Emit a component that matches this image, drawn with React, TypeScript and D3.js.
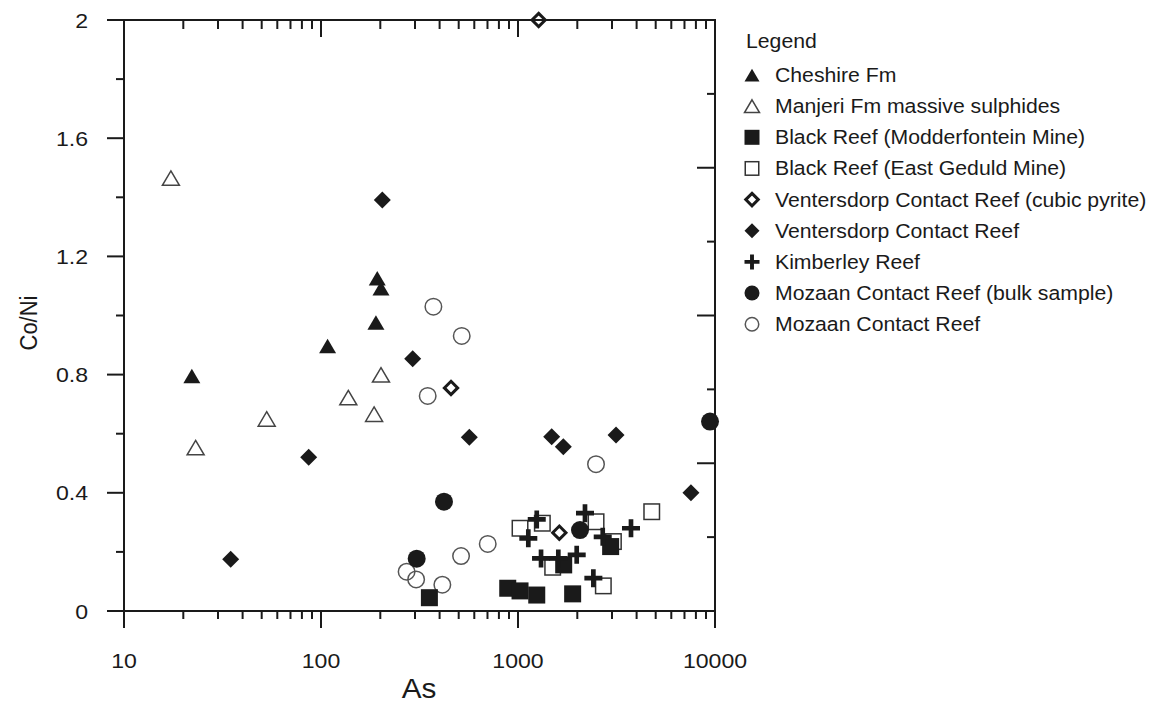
import React from "react";
import * as d3 from "d3";

// values (As ppm, Co/Ni)
const cheshire: [number, number][] = [[22.1, 0.795], [108, 0.897], [190, 0.976], [193, 1.126], [201.6, 1.092]];
const manjeri: [number, number][] = [[17.3, 1.465], [23.1, 0.553], [53, 0.65], [137.6, 0.722], [186, 0.666], [201.6, 0.799]];
const modderfontein: [number, number][] = [[355, 0.045], [887, 0.077], [1024, 0.068], [1245, 0.054], [1894, 0.058], [1706, 0.156], [2953, 0.218]];
const eastGeduld: [number, number][] = [[1024, 0.28], [1329, 0.297], [2490, 0.302], [3050, 0.235], [4774, 0.336], [1500, 0.148], [2711, 0.085]];
const vcrCubic: [number, number][] = [[1273, 2.0], [457, 0.755], [1621, 0.265]];
const vcr: [number, number][] = [[34.8, 0.175], [86.6, 0.52], [204.8, 1.391], [292, 0.854], [566, 0.588], [1483, 0.59], [1698, 0.556], [3145, 0.596], [7551, 0.4]];
const kimberley: [number, number][] = [[1128, 0.246], [1245, 0.31], [1309, 0.178], [1602, 0.178], [1986, 0.19], [2188, 0.331], [2413, 0.111], [2692, 0.251], [3746, 0.28]];
const mozaanBulk: [number, number][] = [[306, 0.177], [421, 0.37], [2064, 0.274], [9433, 0.641]];
const mozaan: [number, number][] = [[272, 0.133], [304, 0.107], [348, 0.728], [372, 1.03], [413, 0.089], [514, 0.186], [518, 0.931], [702, 0.227], [2489, 0.497]];

const legendLabels = [
  "Cheshire Fm",
  "Manjeri Fm massive sulphides",
  "Black Reef (Modderfontein Mine)",
  "Black Reef (East Geduld Mine)",
  "Ventersdorp Contact Reef (cubic pyrite)",
  "Ventersdorp Contact Reef",
  "Kimberley Reef",
  "Mozaan Contact Reef (bulk sample)",
  "Mozaan Contact Reef",
];

const xMajor = [10, 100, 1000, 10000];
const yMajor = [0, 0.4, 0.8, 1.2, 1.6, 2];
const yMinor = [0.2, 0.6, 1.0, 1.4, 1.8];
const rightMajor = [0.5, 1.0, 1.5];
const rightMinor = [0.25, 0.75, 1.25, 1.75];

const FONT = "'Liberation Sans', Arial, Helvetica, sans-serif";
const INK = "#1a1a1a";

const x = d3.scaleLog().domain([10, 10000]).range([124, 715]);
const y = d3.scaleLinear().domain([0, 2]).range([611, 20]);

const xMinor: number[] = [];
[10, 100, 1000].forEach((d) => d3.range(2, 10).forEach((k) => xMinor.push(k * d)));

type Shape = "tri" | "otri" | "sq" | "osq" | "odia" | "dia" | "plus" | "dot" | "odot";

// marker drawn around 0,0; s = overall size in px
function Marker({ shape, s }: { shape: Shape; s: number }) {
  const h = s / 2;
  switch (shape) {
    case "tri":
    case "otri": {
      const d = `M0,${-h * 0.85}L${h},${h * 0.85}L${-h},${h * 0.85}Z`;
      return shape === "tri" ? (
        <path d={d} fill={INK} />
      ) : (
        <path d={d} fill="none" stroke="#444" strokeWidth={1.5} />
      );
    }
    case "sq":
      return <rect x={-h} y={-h} width={s} height={s} fill={INK} />;
    case "osq":
      return <rect x={-h + 0.75} y={-h + 0.75} width={s - 1.5} height={s - 1.5} fill="none" stroke="#333" strokeWidth={1.5} />;
    case "dia":
      return <path d={`M0,${-h}L${h},0L0,${h}L${-h},0Z`} fill={INK} />;
    case "odia": {
      const k = h * 0.78;
      return <path d={`M0,${-k}L${k},0L0,${k}L${-k},0Z`} fill="none" stroke={INK} strokeWidth={3} />;
    }
    case "plus":
      return <path d={`M${-h},0H${h}M0,${-h}V${h}`} stroke={INK} strokeWidth={s * 0.26} />;
    case "dot":
      return <circle r={h} fill={INK} />;
    case "odot":
      return <circle r={h - 0.75} fill="none" stroke="#555" strokeWidth={1.5} />;
  }
  return null;
}

const series: { data: [number, number][]; shape: Shape; size: number }[] = [
  { data: eastGeduld, shape: "osq", size: 17 },
  { data: mozaan, shape: "odot", size: 18 },
  { data: manjeri, shape: "otri", size: 17 },
  { data: cheshire, shape: "tri", size: 17 },
  { data: vcr, shape: "dia", size: 17 },
  { data: vcrCubic, shape: "odia", size: 17 },
  { data: modderfontein, shape: "sq", size: 17 },
  { data: mozaanBulk, shape: "dot", size: 18 },
  { data: kimberley, shape: "plus", size: 18 },
];

const legendShapes: Shape[] = ["tri", "otri", "sq", "osq", "odia", "dia", "plus", "dot", "odot"];

const SX = 1.1; // reference text is slightly stretched horizontally

export default function App() {
  const left = x.range()[0];
  const right = x.range()[1];
  const top = y.range()[1];
  const bottom = y.range()[0];
  return (
    <svg
      width={1156}
      height={709}
      style={{ position: "absolute", left: 0, top: 0, background: "#fff" }}
      fontFamily={FONT}
    >
      <rect width={1156} height={709} fill="#fff" />
      {/* frame */}
      <g stroke={INK} strokeWidth={2} fill="none">
        <rect x={left} y={top} width={right - left} height={bottom - top} />
        {/* left axis: outward ticks */}
        {yMajor.map((v) => (
          <line key={"ly" + v} x1={left - 17} x2={left} y1={y(v)} y2={y(v)} />
        ))}
        {yMinor.map((v) => (
          <line key={"lym" + v} x1={left - 8} x2={left} y1={y(v)} y2={y(v)} />
        ))}
        {/* right axis: inward ticks */}
        {rightMajor.map((v) => (
          <line key={"ry" + v} x1={right - 18} x2={right} y1={y(v)} y2={y(v)} />
        ))}
        {rightMinor.map((v) => (
          <line key={"rym" + v} x1={right - 8} x2={right} y1={y(v)} y2={y(v)} />
        ))}
        {/* bottom axis: outward ticks */}
        {xMajor.map((v) => (
          <line key={"bx" + v} x1={x(v)} x2={x(v)} y1={bottom} y2={bottom + 17} />
        ))}
        {xMinor.map((v) => (
          <line key={"bxm" + v} x1={x(v)} x2={x(v)} y1={bottom} y2={bottom + 8} />
        ))}
        {/* top axis: inward ticks */}
        {xMajor.map((v) => (
          <line key={"tx" + v} x1={x(v)} x2={x(v)} y1={top} y2={top + 17} />
        ))}
        {xMinor.map((v) => (
          <line key={"txm" + v} x1={x(v)} x2={x(v)} y1={top} y2={top + 9} />
        ))}
      </g>

      {/* tick labels */}
      <g fill={INK} fontSize={21}>
        {yMajor.map((v) => (
          <g key={"yl" + v} transform={`translate(${left - 36},${y(v)}) scale(${SX},1)`}>
            <text textAnchor="end" dy="0.36em">
              {d3.format("~g")(v)}
            </text>
          </g>
        ))}
        {xMajor.map((v) => (
          <g key={"xl" + v} transform={`translate(${x(v)},${bottom + 57}) scale(${SX},1)`}>
            <text textAnchor="middle">{v}</text>
          </g>
        ))}
      </g>

      {/* axis titles */}
      <g transform={`translate(${(left + right) / 2 - 0.5},698) scale(${SX},1)`}>
        <text textAnchor="middle" fontSize={27} fill={INK}>
          As
        </text>
      </g>
      <g transform={`translate(37,323) scale(${SX},1) rotate(-90)`}>
        <text textAnchor="middle" fontSize={22} fill={INK}>
          Co/Ni
        </text>
      </g>

      {/* points */}
      {series.map((s, i) => (
        <g key={"s" + i}>
          {s.data.map(([a, b], j) => (
            <g key={j} transform={`translate(${x(a)},${y(b)})`}>
              <Marker shape={s.shape} s={s.size} />
            </g>
          ))}
        </g>
      ))}

      {/* legend */}
      <g fill={INK} fontSize={19.3}>
        <g transform={`translate(746,48) scale(${SX},1)`}>
          <text>Legend</text>
        </g>
        {legendLabels.map((lab, i) => {
          const by = 82 + i * 31.15;
          return (
            <g key={lab}>
              <g transform={`translate(752,${by - 7})`}>
                <Marker shape={legendShapes[i]} s={legendShapes[i] === "odia" ? 16 : 15} />
              </g>
              <g transform={`translate(775,${by}) scale(${SX},1)`}>
                <text>{lab}</text>
              </g>
            </g>
          );
        })}
      </g>
    </svg>
  );
}
